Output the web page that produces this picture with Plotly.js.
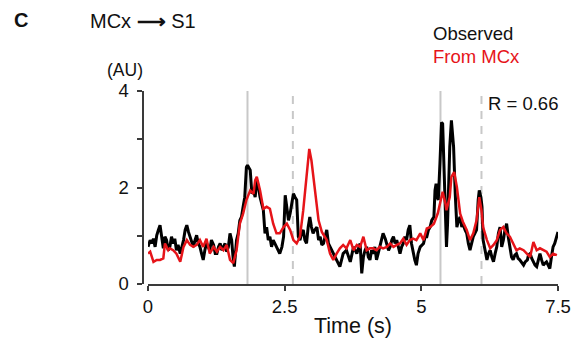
<!DOCTYPE html>
<html>
<head>
<meta charset="utf-8">
<script src="https://cdn.plot.ly/plotly-3.0.1.min.js"></script>
<style>html,body{margin:0;padding:0;background:#fff;}#chart{width:576px;height:340px;}</style>
</head>
<body>
<div id="chart"></div>
<script>
// Observed S1 activity (black)
const obsTime = [
  0.00,0.04,0.07,0.10,0.13,0.16,0.19,0.22,0.25,0.28,
  0.31,0.34,0.37,0.40,0.43,0.46,0.49,0.52,0.55,0.59,
  0.62,0.65,0.68,0.71,0.74,0.77,0.80,0.83,0.86,0.89,
  0.92,0.95,0.98,1.01,1.04,1.07,1.10,1.13,1.16,1.20,
  1.23,1.26,1.29,1.32,1.35,1.38,1.41,1.44,1.47,1.50,
  1.53,1.56,1.58,1.62,1.65,1.68,1.71,1.74,1.77,1.80,
  1.82,1.87,1.90,1.93,1.96,1.99,2.02,2.05,2.08,2.11,
  2.14,2.17,2.20,2.23,2.26,2.29,2.32,2.35,2.38,2.41,
  2.45,2.48,2.51,2.54,2.57,2.60,2.63,2.66,2.69,2.72,
  2.75,2.78,2.81,2.84,2.87,2.90,2.93,2.96,2.99,3.02,
  3.05,3.09,3.12,3.15,3.18,3.21,3.24,3.27,3.30,3.33,
  3.39,3.45,3.51,
  3.57,3.63,3.70,3.76,3.82,3.88,3.91,3.94,3.97,4.00,
  4.03,4.06,4.09,4.12,4.15,4.18,4.21,4.24,4.27,4.30,
  4.34,4.37,4.40,4.43,4.46,4.49,4.52,4.55,4.58,4.61,
  4.64,4.67,4.70,4.73,4.76,4.79,4.82,4.85,4.88,4.91,
  4.94,4.98,5.01,5.04,5.07,5.10,5.13,5.16,5.19,5.23,
  5.25,5.27,5.29,5.31,5.34,5.37,5.39,5.40,5.44,5.46,
  5.48,5.51,5.52,5.55,5.59,5.62,5.65,5.68,5.71,5.74,
  5.76,5.80,5.83,5.86,5.89,5.92,5.95,5.98,6.01,6.04,
  6.06,6.09,6.11,6.13,6.16,6.20,6.23,6.26,6.29,6.32,
  6.35,6.38,6.41,6.44,6.47,6.50,6.53,6.56,6.59,6.62,
  6.65,6.68,6.71,6.74,6.77,6.80,6.84,6.87,6.90,6.94,
  6.96,6.99,7.02,7.05,7.08,7.11,7.14,7.17,7.20,7.23,
  7.26,7.29,7.32,7.35,7.38,7.41,7.44,7.48,7.50
];
const obsValue = [
  0.77,0.91,0.84,0.94,0.77,1.01,1.12,1.22,0.98,0.74,
  0.98,0.91,0.70,0.77,0.98,0.84,0.94,0.70,0.81,0.63,
  0.77,0.91,1.12,1.22,1.08,0.98,0.84,0.77,0.91,1.01,
  0.84,0.77,0.63,0.50,0.70,0.84,0.77,0.70,0.91,0.81,
  0.63,0.63,0.77,0.84,0.70,0.77,0.84,0.67,0.77,1.05,
  0.91,0.50,0.36,0.91,1.05,1.32,1.39,1.60,1.80,2.42,
  2.46,2.36,1.87,1.94,1.80,2.15,2.01,1.80,1.67,1.53,
  1.05,1.18,0.91,0.98,0.77,0.91,0.84,0.77,0.70,0.63,
  0.77,0.98,1.84,1.60,1.32,1.46,1.67,1.87,1.80,1.74,
  0.98,0.91,1.05,1.12,0.91,0.84,1.18,1.39,1.18,1.05,
  1.12,1.18,0.91,0.98,0.81,0.84,0.98,1.12,0.84,0.77,
  0.63,0.50,0.36,
  0.63,0.70,0.46,0.77,0.63,0.84,0.22,0.56,0.70,0.77,
  0.56,0.50,0.70,0.63,0.77,0.50,0.63,0.77,0.91,1.05,
  0.94,0.84,0.70,0.77,0.91,0.98,0.84,0.91,0.77,0.63,
  0.77,0.84,0.98,0.91,1.12,1.22,0.84,0.63,0.50,0.39,
  0.63,0.77,0.81,0.84,0.98,0.98,1.12,1.18,1.32,1.39,
  1.94,2.08,1.80,1.74,2.49,3.35,3.32,2.98,1.46,0.77,
  1.25,2.29,2.84,3.39,2.84,1.87,1.18,1.32,1.39,1.18,
  1.25,1.12,1.05,0.84,0.70,0.84,0.98,1.05,1.12,1.74,
  1.94,1.80,1.60,0.91,0.70,0.50,0.63,0.70,0.56,0.46,
  0.63,0.77,1.05,1.18,0.77,0.91,1.12,1.25,0.98,0.77,
  0.56,0.50,0.60,0.63,0.53,0.50,0.43,0.39,0.46,0.50,
  0.60,0.63,0.53,0.46,0.39,0.36,0.50,0.63,0.50,0.39,
  0.43,0.46,0.39,0.32,0.56,0.77,0.84,0.98,1.08
];

// Predicted from MCx (red)
const mcxTime = [
  0.00,0.04,0.10,0.16,0.22,0.28,0.31,0.34,0.37,0.40,
  0.46,0.52,0.59,0.65,0.71,0.77,0.83,0.89,0.95,1.01,
  1.07,1.13,1.20,1.26,1.32,1.38,1.44,1.50,1.56,1.62,
  1.68,1.74,1.80,1.87,1.93,1.96,1.99,2.02,2.05,2.11,
  2.17,2.23,2.29,2.35,2.41,2.48,2.54,2.60,2.66,2.72,
  2.78,2.84,2.90,2.95,2.99,3.05,3.12,3.18,3.27,3.33,
  3.39,3.45,3.51,3.57,3.63,3.70,3.76,3.82,3.88,3.94,
  4.00,4.06,4.12,4.18,4.24,4.30,4.37,4.43,4.49,4.55,
  4.61,4.67,4.73,4.79,4.85,4.91,4.98,5.04,5.10,5.16,
  5.23,5.30,5.34,5.39,5.44,5.46,5.52,5.55,5.60,5.65,
  5.71,5.76,5.83,5.89,5.95,6.01,6.06,6.10,6.13,6.20,
  6.26,6.32,6.38,6.44,6.50,6.56,6.62,6.68,6.74,6.80,
  6.87,6.93,6.99,7.05,7.11,7.17,7.23,7.29,7.35,7.41,
  7.48
];
const mcxValue = [
  0.63,0.67,0.46,0.50,0.50,0.53,0.84,0.77,0.70,0.74,
  0.70,0.63,0.46,0.77,0.91,0.81,0.77,0.81,0.91,0.77,
  0.94,0.63,0.77,0.67,0.77,0.70,0.81,0.50,0.43,0.70,
  1.25,1.46,1.74,1.94,1.87,2.15,2.22,2.08,1.94,1.56,
  1.60,1.56,1.25,1.05,1.05,1.18,1.25,1.12,0.91,0.84,
  0.98,1.53,2.29,2.80,2.56,1.94,1.32,1.08,0.91,0.63,
  0.50,0.63,0.74,0.81,0.74,0.91,0.70,0.81,0.77,0.98,
  0.70,0.74,0.74,0.70,0.77,0.74,0.77,0.84,0.77,0.81,
  0.84,0.94,0.81,0.91,0.94,0.91,1.05,0.91,1.15,1.18,
  1.25,1.46,1.67,1.91,1.67,1.53,1.80,2.22,2.32,2.01,
  1.46,1.29,1.12,0.91,1.05,1.32,1.80,1.53,1.18,0.91,
  0.74,0.81,0.91,1.12,1.18,1.05,0.98,0.84,0.70,0.74,
  0.70,0.63,0.56,0.87,0.70,0.74,0.70,0.67,0.56,0.63,
  0.60
];

// Event markers (s)
const solidEventTimes = [1.82, 5.35];
const dashedEventTimes = [2.65, 6.10];

// Ticks
const xTickVals = [0, 2.5, 5, 7.5];
const xTickText = ['0', '2.5', '5', '7.5'];
const yTickVals = [0, 1, 2, 3, 4];
const yTickText = ['0', '', '2', '', '4'];

const FONT = 'Arial, "Liberation Sans", Helvetica, sans-serif';
const RED = 'rgb(230,20,25)';
const INK = '#111';

const W = 576, H = 340;
const M = {l: 140, r: 18, t: 91, b: 56};
const PW = W - M.l - M.r, PH = H - M.t - M.b;
const px = X => (X - M.l) / PW;
const py = Y => (H - M.b - Y) / PH;

const traces = [
  {x: obsTime, y: obsValue, type: 'scatter', mode: 'lines', name: 'Observed',
   line: {color: '#000000', width: 3}, hoverinfo: 'skip'},
  {x: mcxTime, y: mcxValue, type: 'scatter', mode: 'lines', name: 'From MCx',
   line: {color: RED, width: 2.5}, hoverinfo: 'skip'}
];

const shapes = [];
solidEventTimes.forEach(t => shapes.push({type: 'line', xref: 'x', yref: 'y', x0: t, x1: t, y0: 0, y1: 4,
  line: {color: '#c8c8c8', width: 2}, layer: 'below'}));
dashedEventTimes.forEach(t => shapes.push({type: 'line', xref: 'x', yref: 'y', x0: t, x1: t, y0: 0, y1: 4,
  line: {color: '#c8c8c8', width: 2, dash: '8px,7px'}, layer: 'below'}));

function ann(text, X, Y, size, color) {
  return {text: text, xref: 'paper', yref: 'paper', x: px(X), y: py(Y),
    xanchor: 'left', yanchor: 'middle', showarrow: false,
    font: {family: FONT, size: size, color: color || INK}};
}

const annotations = [
  ann('<b>C</b>', 12, 20, 20),
  ann('MCx <b>⟶</b> S1', 88, 21, 20),
  ann('(AU)', 105, 70, 17.5),
  ann('Observed', 431, 33, 18.5),
  ann('From MCx', 431, 56, 18.5, RED),
  ann('R = 0.66', 486, 103, 18.5)
];

const layout = {
  width: W, height: H,
  margin: M,
  paper_bgcolor: '#fff', plot_bgcolor: 'rgba(0,0,0,0)',
  showlegend: false,
  font: {family: FONT, size: 18, color: INK},
  xaxis: {
    domain: [px(148), 1],
    range: [0, 7.5],
    showgrid: false, zeroline: false,
    showline: true, linecolor: '#3a3a3a', linewidth: 2,
    ticks: 'outside', ticklen: 5, tickwidth: 2, tickcolor: '#3a3a3a',
    tickvals: xTickVals, ticktext: xTickText,
    tickfont: {family: FONT, size: 18.5, color: INK},
    title: {text: 'Time (s)', font: {family: FONT, size: 21.5, color: INK}, standoff: 2}
  },
  yaxis: {
    anchor: 'free', position: px(142.5),
    range: [0, 4],
    showgrid: false, zeroline: false,
    showline: true, linecolor: '#3a3a3a', linewidth: 2,
    ticks: 'outside', ticklen: 5, tickwidth: 2, tickcolor: '#3a3a3a',
    tickvals: yTickVals, ticktext: yTickText, ticklabelstandoff: 4,
    tickfont: {family: FONT, size: 18.5, color: INK}
  },
  shapes: shapes,
  annotations: annotations
};

Plotly.newPlot('chart', traces, layout, {staticPlot: true, displayModeBar: false});
</script>
</body>
</html>
